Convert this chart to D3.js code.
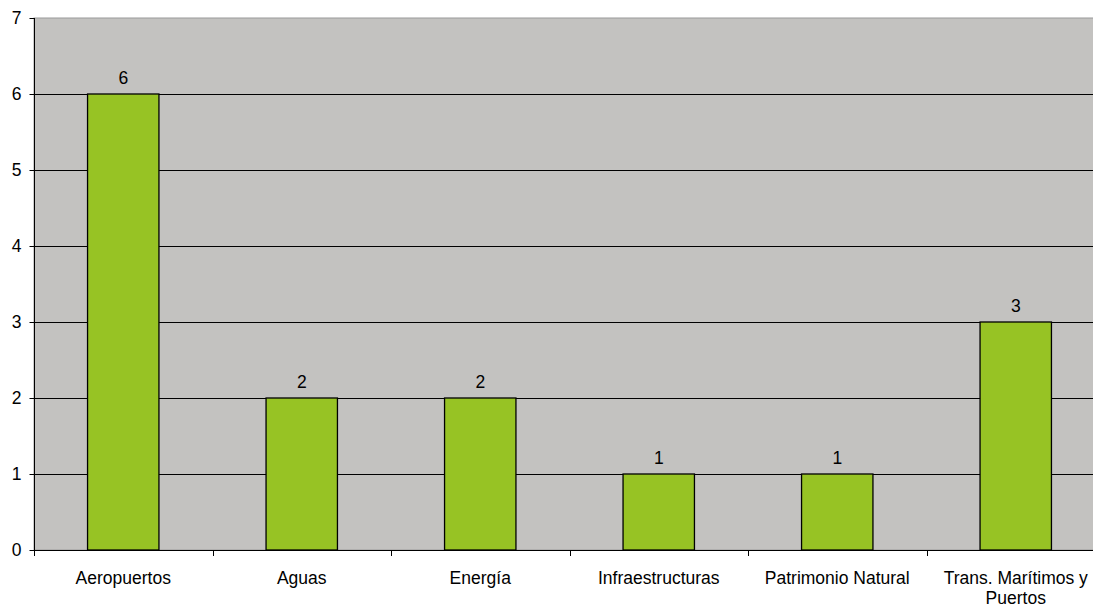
<!DOCTYPE html>
<html>
<head>
<meta charset="utf-8">
<script src="https://cdn.jsdelivr.net/npm/d3@7"></script>
<style>
  html, body { margin: 0; padding: 0; background: #ffffff; }
  svg { display: block; font-family: "Liberation Sans", Arial, sans-serif; }
</style>
</head>
<body>
<svg id="chart" width="1093" height="607"></svg>
<script>
const categories = ["Aeropuertos", "Aguas", "Energía", "Infraestructuras", "Patrimonio Natural", "Trans. Marítimos y Puertos"];
const values = [6, 2, 2, 1, 1, 3];
const yTicks = [0, 1, 2, 3, 4, 5, 6, 7];

const svg = d3.select("#chart");
const plot = { left: 34, top: 18, right: 1105, bottom: 550 };

const x = d3.scaleBand().domain(categories).range([plot.left, plot.right]).paddingInner(0).paddingOuter(0);
const y = d3.scaleLinear().domain([0, 7]).range([plot.bottom, plot.top]);
const barW = x.bandwidth() / 2.5;

// plot background
svg.append("rect")
  .attr("x", plot.left).attr("y", plot.top)
  .attr("width", plot.right - plot.left).attr("height", plot.bottom - plot.top)
  .attr("fill", "#c3c2c0")
  .attr("stroke", "#9a9a9a").attr("stroke-width", 1);

// gridlines
svg.append("g").selectAll("line")
  .data(yTicks.filter(d => d > 0 && d < 7))
  .join("line")
  .attr("x1", plot.left).attr("x2", plot.right)
  .attr("y1", d => Math.round(y(d)) + 0.5).attr("y2", d => Math.round(y(d)) + 0.5)
  .attr("stroke", "#000").attr("stroke-width", 1);

// bars
svg.append("g").selectAll("rect")
  .data(values)
  .join("rect")
  .attr("x", (d, i) => x(categories[i]) + (x.bandwidth() - barW) / 2)
  .attr("y", d => y(d))
  .attr("width", barW)
  .attr("height", d => y(0) - y(d))
  .attr("fill", "#97c324")
  .attr("stroke", "#000").attr("stroke-width", 1.3);

// value labels
svg.append("g").selectAll("text")
  .data(values)
  .join("text")
  .attr("x", (d, i) => x(categories[i]) + x.bandwidth() / 2)
  .attr("y", d => y(d) - 10)
  .attr("text-anchor", "middle")
  .attr("font-size", "17.5px")
  .attr("fill", "#000")
  .text(d => d);

// y axis
const yAxis = d3.axisLeft(y).tickValues(yTicks).tickSize(5).tickPadding(8).tickFormat(d3.format("d"));
const gy = svg.append("g").attr("transform", `translate(${plot.left + 0.5},0)`).call(yAxis);
gy.select(".domain").attr("stroke", "#000").attr("d", `M0,${plot.top}V${plot.bottom}`);
gy.selectAll(".tick line").attr("stroke", "#000");
gy.selectAll(".tick text").attr("font-size", "17.5px").attr("fill", "#000").attr("font-family", "Liberation Sans, Arial, sans-serif");

// x axis line and ticks at band boundaries
svg.append("line")
  .attr("x1", plot.left).attr("x2", plot.right)
  .attr("y1", plot.bottom + 0.5).attr("y2", plot.bottom + 0.5)
  .attr("stroke", "#000").attr("stroke-width", 1);
const boundaries = categories.map(c => x(c)).concat([plot.right]);
svg.append("g").selectAll("line")
  .data(boundaries)
  .join("line")
  .attr("x1", d => Math.round(d) + 0.5).attr("x2", d => Math.round(d) + 0.5)
  .attr("y1", plot.bottom).attr("y2", plot.bottom + 6)
  .attr("stroke", "#000");

// category labels (wrap long one)
const wrapWidth = x.bandwidth() - 6;
const catG = svg.append("g");
categories.forEach(c => {
  const t = catG.append("text")
    .attr("x", x(c) + x.bandwidth() / 2)
    .attr("y", 584)
    .attr("text-anchor", "middle")
    .attr("font-size", "17.5px")
    .attr("fill", "#000");
  const words = c.split(" ");
  let line = [];
  let tspan = t.append("tspan").attr("x", x(c) + x.bandwidth() / 2).attr("dy", 0);
  let lineNo = 0;
  words.forEach(w => {
    line.push(w);
    tspan.text(line.join(" "));
    if (tspan.node().getComputedTextLength() > wrapWidth && line.length > 1) {
      line.pop();
      tspan.text(line.join(" "));
      line = [w];
      lineNo++;
      tspan = t.append("tspan").attr("x", x(c) + x.bandwidth() / 2).attr("dy", 20).text(w);
    }
  });
});
</script>
</body>
</html>
